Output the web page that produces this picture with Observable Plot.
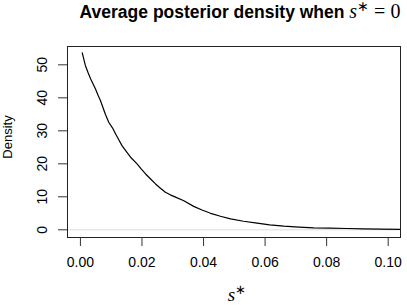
<!DOCTYPE html>
<html>
<head>
<meta charset="utf-8">
<script src="https://cdn.jsdelivr.net/npm/d3@7"></script>
<script src="https://cdn.jsdelivr.net/npm/@observablehq/plot@0.6"></script>
<style>
  html, body { margin: 0; padding: 0; background: #fff; }
  svg { display: block; }
</style>
</head>
<body>
<div id="chart"></div>
<script>
// s* values (x) and average posterior density (y)
const sValues = [0.0006, 0.0016, 0.0025, 0.0033, 0.0049, 0.0058, 0.0065, 0.0081, 0.0092, 0.0104, 0.0114, 0.0125, 0.0135, 0.0150, 0.0163, 0.0184, 0.0198, 0.0211, 0.0228, 0.0244, 0.0260, 0.0276, 0.0292, 0.0309, 0.0336, 0.0368, 0.0395, 0.0423, 0.0455, 0.0488, 0.0530, 0.0574, 0.0615, 0.0661, 0.0710, 0.0758, 0.0810, 0.0867, 0.0920, 0.0975, 0.1040];
const densityValues = [53.6, 49.8, 47.6, 45.8, 42.7, 40.6, 39.2, 35.0, 32.6, 30.9, 29.1, 27.2, 25.5, 23.6, 22.0, 20.0, 18.4, 17.0, 15.4, 13.9, 12.6, 11.4, 10.6, 9.9, 8.8, 7.1, 6.0, 5.0, 4.1, 3.3, 2.6, 2.0, 1.5, 1.1, 0.8, 0.6, 0.5, 0.4, 0.3, 0.2, 0.15];
const xTicks = [0, 0.02, 0.04, 0.06, 0.08, 0.10];
const yTicks = [0, 10, 20, 30, 40, 50];
const titleText = ["Average posterior density when s* = 0"];
const yLabel = ["Density"];
const xLabel = ["s*"];

const data = sValues.map((s, i) => ({s, d: densityValues[i]}));

const sans = "'Liberation Sans', Arial, Helvetica, sans-serif";
const serif = "'Liberation Serif', 'Times New Roman', serif";

const chart = Plot.plot({
  width: 407,
  height: 305,
  marginLeft: 67,
  marginRight: 7,
  marginTop: 46,
  marginBottom: 68,
  style: {fontFamily: sans, background: "#fff", color: "#000"},
  x: {domain: [-0.0042, 0.104], label: null},
  y: {domain: [-2.33, 55.55], label: null},
  marks: [
    Plot.ruleY([0], {stroke: "#dddddd", strokeWidth: 1}),
    Plot.line(data, {x: "s", y: "d", stroke: "#000", strokeWidth: 1.2, clip: true}),
    Plot.frame({stroke: "#222", strokeWidth: 1}),
    Plot.axisX({ticks: xTicks, tickSize: 9, tickPadding: 11, tickFormat: d3.format(".2f"), fontSize: 14, label: null, stroke: "#333"}),
    Plot.axisY({ticks: yTicks, tickSize: 9, tickFormat: () => "", label: null, stroke: "#333"}),
    Plot.text(yTicks, {y: d => d, text: d => String(d), frameAnchor: "left", dx: -21, rotate: -90, textAnchor: "middle", lineAnchor: "bottom", fontSize: 14, fill: "#000"}),
    Plot.text(yLabel, {text: d => d, frameAnchor: "left", dx: -56, dy: -5, rotate: -90, textAnchor: "middle", lineAnchor: "bottom", fontSize: 13, fill: "#000"}),
    Plot.text(titleText, {text: d => d, frameAnchor: "top", dx: 6, dy: -29, lineAnchor: "bottom", fontSize: 17.5, fontWeight: "bold", fill: "#000", className: "chart-title"}),
    Plot.text(xLabel, {text: d => d, frameAnchor: "bottom", dx: 3, dy: 63, lineAnchor: "bottom", fontSize: 19, fill: "#000", className: "x-label"})
  ]
});

// rich formatting for the math parts (kept as real text)
const NS = "http://www.w3.org/2000/svg";
function tspan(parent, txt, attrs) {
  const t = document.createElementNS(NS, "tspan");
  for (const k in attrs) t.setAttribute(k, attrs[k]);
  t.textContent = txt;
  parent.appendChild(t);
}
const tt = chart.querySelector(".chart-title text");
if (tt) {
  tt.textContent = "";
  tspan(tt, "Average posterior density when ", {"font-family": sans, "font-weight": "bold"});
  tspan(tt, "s", {"font-family": serif, "font-style": "italic", "font-weight": "normal", "font-size": 20});
  tspan(tt, "∗", {"font-family": serif, "font-weight": "normal", "font-size": 14, dy: -7});
  tspan(tt, " = 0", {"font-family": serif, "font-weight": "normal", "font-size": 20, dy: 7});
}
const xl = chart.querySelector(".x-label text");
if (xl) {
  xl.textContent = "";
  tspan(xl, "s", {"font-family": serif, "font-style": "italic"});
  tspan(xl, "∗", {"font-family": serif, "font-size": 13, dy: -7});
}
document.getElementById("chart").appendChild(chart);
</script>
</body>
</html>
